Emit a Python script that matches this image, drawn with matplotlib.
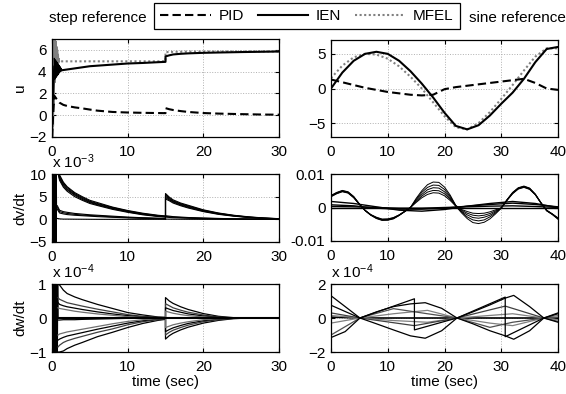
import matplotlib
matplotlib.use("Agg")
import matplotlib.pyplot as plt
from matplotlib.lines import Line2D

plt.rcParams["font.family"] = ["Liberation Sans", "DejaVu Sans"]
plt.rcParams["mathtext.fontset"] = "custom"
plt.rcParams["mathtext.rm"] = "Liberation Sans"
plt.rcParams["mathtext.it"] = "Liberation Sans"

FS = 11
GRAY = "#808080"
DASH = (0, (4, 2))
DOT = (0, (1, 1.2))

# ── u, step reference ────────────────────────────────────────────────
T_U = [0, 0.3, 0.6, 1, 1.5, 2, 3, 4, 5, 6, 8, 10, 12, 14, 15, 15, 15.5, 16,
       17, 18, 20, 22, 25, 28, 30]
U_PID_STEP = [-2, 1.8, 1.5, 1.15, 0.95, 0.85, 0.72, 0.63, 0.52, 0.42, 0.3, 0.25,
              0.22, 0.2, 0.19, 0.65, 0.55, 0.48, 0.38, 0.3, 0.2, 0.15, 0.1, 0.06, 0.05]
U_IEN_STEP = [0, 4.5, 4.0, 4.1, 4.15, 4.2, 4.3, 4.4, 4.5, 4.55, 4.65, 4.75, 4.8,
              4.87, 4.9, 5.4, 5.5, 5.58, 5.64, 5.68, 5.73, 5.76, 5.8, 5.83, 5.85]
U_MFEL_STEP = [4.95, 4.95, 4.95, 4.95, 4.95, 4.95, 4.95, 4.95, 4.95, 4.95, 4.95,
               4.95, 4.95, 4.95, 4.95, 5.8, 5.8, 5.82, 5.83, 5.84, 5.85, 5.85,
               5.85, 5.86, 5.86]
# start-up chatter
T_MFEL_OSC = [0, 0.05, 0.1, 0.15, 0.2, 0.25, 0.3, 0.35, 0.4, 0.45, 0.5, 0.55,
              0.6, 0.65, 0.7, 0.75, 0.8, 0.85, 0.9, 0.95, 1.0]
U_MFEL_OSC = [-2, 7, -2, 7, -1, 7, 1, 7, 3, 7, 4, 6.8, 4.3, 6.3, 4.5, 6.0, 4.6,
              5.6, 4.8, 5.2, 4.95]
T_IEN_OSC = [0.3, 0.35, 0.4, 0.45, 0.5, 0.55, 0.6, 0.65, 0.7, 0.75, 0.8, 0.85,
             0.9, 0.95, 1.0, 1.05, 1.1, 1.15, 1.2, 1.25, 1.3]
U_IEN_OSC = [5.2, 3.3, 5.1, 3.4, 5.0, 3.5, 4.9, 3.6, 4.8, 3.7, 4.7, 3.8, 4.6,
             3.9, 4.5, 4.0, 4.4, 4.05, 4.3, 4.1, 4.15]

# ── u, sine reference ────────────────────────────────────────────────
T_SINE = [0, 2, 4, 6, 8, 10, 12, 14, 16, 18, 20, 22, 24, 26, 28, 30, 32, 34,
          36, 38, 40]
U_PID_SINE = [1.3, 0.9, 0.5, 0.1, -0.2, -0.5, -0.7, -0.9, -1.0, -0.9, -0.1, 0.2,
              0.4, 0.6, 0.8, 1.0, 1.2, 1.4, 0.8, 0.0, -0.2]
U_IEN_SINE = [0.0, 2.3, 4.0, 5.0, 5.3, 5.0, 4.0, 2.5, 0.7, -1.3, -3.5, -5.4,
              -5.9, -5.3, -3.9, -2.2, -0.6, 1.4, 3.8, 5.7, 6.0]
U_MFEL_SINE = [1.5, 3.3, 4.5, 5.0, 4.9, 4.3, 3.2, 1.7, 0.0, -2.0, -4.0, -5.6,
               -5.9, -5.0, -3.4, -1.5, 0.5, 2.6, 4.6, 5.8, 5.8]

# ── dv/dt, step reference (x 1e-3) ───────────────────────────────────
T_DV = [0.7, 1.0, 1.5, 2, 3, 4, 5, 6, 8, 10, 12, 14, 15, 15, 15.5, 16, 17, 18,
        20, 22, 24, 26, 28, 30]
DV_STEP_HIGH = [
    [11, 9.8, 8.2, 7.2, 5.9, 5.0, 4.2, 3.7, 2.7, 1.95, 1.35, 0.9, 0.75, 5.7, 4.9, 4.3, 3.6, 3.1, 2.1, 1.4, 0.9, 0.55, 0.3, 0.15],
    [11, 9.5, 8.0, 7.0, 5.7, 4.8, 4.0, 3.5, 2.6, 1.85, 1.25, 0.82, 0.68, 5.4, 4.7, 4.1, 3.45, 2.95, 2.0, 1.33, 0.85, 0.5, 0.28, 0.13],
    [11, 9.2, 7.7, 6.7, 5.5, 4.6, 3.85, 3.35, 2.45, 1.75, 1.15, 0.75, 0.6, 5.1, 4.5, 3.95, 3.3, 2.8, 1.9, 1.25, 0.8, 0.47, 0.25, 0.12],
    [11, 8.9, 7.4, 6.5, 5.3, 4.4, 3.7, 3.2, 2.35, 1.65, 1.1, 0.7, 0.55, 4.8, 4.3, 3.8, 3.15, 2.65, 1.8, 1.18, 0.75, 0.43, 0.22, 0.1],
    [11, 8.6, 7.1, 6.2, 5.0, 4.2, 3.5, 3.05, 2.2, 1.55, 1.0, 0.62, 0.5, 4.5, 4.1, 3.6, 3.0, 2.5, 1.7, 1.1, 0.7, 0.4, 0.2, 0.08],
]
DV_STEP_LOW = [
    [3.0, 2.0, 1.7, 1.55, 1.3, 1.15, 1.0, 0.9, 0.7, 0.5, 0.35, 0.25, 0.2, 0.8, 0.7, 0.6, 0.5, 0.4, 0.3, 0.2, 0.12, 0.08, 0.05, 0.03],
    [2.6, 1.7, 1.45, 1.3, 1.1, 0.95, 0.85, 0.75, 0.55, 0.4, 0.28, 0.2, 0.15, 0.65, 0.55, 0.48, 0.4, 0.32, 0.22, 0.15, 0.1, 0.06, 0.04, 0.02],
    [2.2, 1.4, 1.2, 1.05, 0.9, 0.8, 0.7, 0.6, 0.45, 0.32, 0.22, 0.15, 0.12, 0.5, 0.42, 0.36, 0.3, 0.24, 0.16, 0.1, 0.07, 0.04, 0.02, 0.01],
    [0.2, 0.1, 0.05, 0.05, 0.03, 0.02, 0.01, 0.0, 0.0, 0.0, 0.0, 0.0, 0.0, 0.05, 0.04, 0.03, 0.02, 0.01, 0.0, 0.0, 0.0, 0.0, 0.0, 0.0],
]
T_DV_OSC = [0, 0.03, 0.06, 0.09, 0.12, 0.15, 0.18, 0.21, 0.24, 0.27, 0.3, 0.33,
            0.36, 0.39, 0.42, 0.45, 0.48, 0.51, 0.54, 0.57, 0.6]
DV_OSC = [0, 10, -5, 10, -5, 10, -5, 10, -5, 10, -5, 10, -5, 10, -5, 10, -5,
          10, -5, 10, 3]

# ── dv/dt, sine reference (x 1e-3) ───────────────────────────────────
T_DVS = list(range(41))
DV_SINE = [
    [3.6, 4.5, 5.1, 4.7, 3.3, 1.1, -0.9, -2.3, -3.3, -3.85, -3.8, -3.4, -2.4, -1.2, 0.0, 2.7, 5.0, 6.8, 7.6, 7.5, 6.1, 3.7, 0.6, -0.6, -1.2, -1.7, -1.8, -1.7, -1.3, -0.7, -0.1, 2.3, 4.5, 5.9, 6.4, 5.8, 4.0, 1.4, -1.0, -2.1, -3.5],
    [3.5, 4.4, 5.0, 4.6, 3.2, 1.0, -0.9, -2.25, -3.2, -3.75, -3.7, -3.3, -2.35, -1.2, 0.0, 2.4, 4.5, 6.0, 6.7, 6.6, 5.4, 3.3, 0.5, -0.8, -1.7, -2.3, -2.5, -2.3, -1.8, -1.0, -0.1, 2.25, 4.4, 5.8, 6.3, 5.7, 3.95, 1.4, -0.95, -2.05, -3.4],
    [3.4, 4.3, 4.9, 4.5, 3.1, 1.0, -0.9, -2.2, -3.1, -3.65, -3.6, -3.2, -2.3, -1.2, 0.0, 2.1, 3.9, 5.3, 5.9, 5.8, 4.7, 2.9, 0.5, -1.1, -2.2, -3.0, -3.2, -2.9, -2.3, -1.3, -0.1, 2.2, 4.3, 5.7, 6.2, 5.6, 3.9, 1.4, -0.9, -2.0, -3.3],
    [3.3, 4.2, 4.8, 4.4, 3.0, 1.0, -0.85, -2.15, -3.0, -3.55, -3.5, -3.1, -2.25, -1.15, 0.0, 1.8, 3.4, 4.6, 5.1, 5.0, 4.1, 2.5, 0.4, -1.3, -2.8, -3.7, -4.0, -3.7, -2.8, -1.6, -0.2, 2.15, 4.2, 5.6, 6.1, 5.5, 3.85, 1.35, -0.85, -1.95, -3.2],
    [3.2, 4.1, 4.7, 4.3, 2.9, 0.9, -0.8, -2.1, -2.9, -3.45, -3.4, -3.0, -2.2, -1.1, 0.0, 1.5, 2.9, 3.9, 4.4, 4.3, 3.5, 2.1, 0.4, -1.6, -3.3, -4.5, -4.8, -4.4, -3.4, -1.9, -0.2, 2.1, 4.1, 5.5, 6.0, 5.4, 3.8, 1.3, -0.8, -1.9, -3.1],
]
T_SLOW = [0, 4, 8, 12, 16, 20, 24, 28, 32, 36, 40]
DV_SLOW = [
    [1.8, 1.2, 0.2, -0.8, -1.1, -0.6, 0.4, 1.2, 1.8, 1.2, 0.0],
    [0.8, 0.5, -0.2, -0.5, -0.5, -0.2, 0.4, 0.9, 1.3, 0.9, 0.2],
    [0.3, 0.2, 0.0, -0.2, -0.2, 0.0, 0.2, 0.4, 0.5, 0.3, 0.0],
    [0.0, 0.0, 0.0, 0.0, 0.0, 0.0, 0.0, 0.0, 0.0, 0.0, 0.0],
]

# ── dw/dt, step reference (x 1e-4) ───────────────────────────────────
T_DW = [0.8, 1.0, 1.5, 2, 3, 4, 6, 8, 10, 12, 14, 15, 15, 15.5, 16, 17, 18, 20,
        22, 24, 26, 30]
DW_STEP = [
    [1.0, 0.97, 0.82, 0.72, 0.62, 0.54, 0.4, 0.28, 0.16, 0.09, 0.03, 0.02, 0.6, 0.5, 0.43, 0.33, 0.25, 0.13, 0.05, 0.01, 0.0, 0.0],
    [0.6, 0.55, 0.5, 0.45, 0.4, 0.35, 0.26, 0.18, 0.1, 0.05, 0.02, 0.01, 0.42, 0.36, 0.3, 0.23, 0.17, 0.09, 0.03, 0.0, 0.0, 0.0],
    [0.45, 0.4, 0.36, 0.33, 0.29, 0.25, 0.18, 0.12, 0.07, 0.03, 0.01, 0.0, 0.3, 0.26, 0.22, 0.17, 0.12, 0.06, 0.02, 0.0, 0.0, 0.0],
    [0.3, 0.28, 0.26, 0.24, 0.2, 0.17, 0.12, 0.08, 0.04, 0.02, 0.0, 0.0, 0.2, 0.17, 0.14, 0.1, 0.07, 0.03, 0.01, 0.0, 0.0, 0.0],
    [-1.0, -1.0, -0.97, -0.9, -0.8, -0.72, -0.55, -0.42, -0.28, -0.16, -0.07, -0.04, -0.62, -0.52, -0.45, -0.35, -0.27, -0.15, -0.07, -0.02, 0.0, 0.0],
    [-0.85, -0.8, -0.72, -0.67, -0.6, -0.54, -0.42, -0.32, -0.2, -0.11, -0.05, -0.03, -0.5, -0.42, -0.36, -0.28, -0.21, -0.11, -0.05, -0.01, 0.0, 0.0],
    [-0.65, -0.62, -0.57, -0.53, -0.48, -0.43, -0.33, -0.24, -0.15, -0.08, -0.03, -0.02, -0.4, -0.34, -0.29, -0.22, -0.16, -0.08, -0.03, 0.0, 0.0, 0.0],
    [-0.5, -0.47, -0.44, -0.41, -0.37, -0.33, -0.25, -0.17, -0.1, -0.05, -0.02, -0.01, -0.28, -0.24, -0.2, -0.15, -0.11, -0.05, -0.02, 0.0, 0.0, 0.0],
    [-0.06, -0.06, -0.05, -0.05, -0.05, -0.04, -0.03, -0.02, -0.01, 0.0, 0.0, 0.0, 0.0, 0.0, 0.0, 0.0, 0.0, 0.0, 0.0, 0.0, 0.0, 0.0],
]
DW_STEP_COLORS = ["black", "#404040", "black", "#707070", "black", "#404040",
                  "black", "#707070", "black"]
T_DW_OSC = [0, 0.04, 0.08, 0.12, 0.16, 0.2, 0.24, 0.28, 0.32, 0.36, 0.4, 0.44,
            0.48, 0.52, 0.56, 0.6, 0.64, 0.68, 0.72, 0.76, 0.8]
DW_OSC = [0, 1, -1, 1, -1, 1, -1, 1, -1, 1, -1, 1, -1, 1, -1, 1, -1, 1, -1, 1, 0]

# ── dw/dt, sine reference (x 1e-4) ───────────────────────────────────
T_DWS_SMOOTH = [0, 2.5, 5.1, 8, 11, 14, 16.6, 19.5, 22.2, 25, 28, 30.7, 32.2,
                35, 37.5, 40]
DWS_A = [1.31, 0.67, 0, -0.34, -0.7, -1.05, -1.19, -0.75, 0, 0.36, 0.77, 1.17,
         1.33, 0.67, 0, -0.25]
DWS_B = [-1.15, -0.8, 0, 0.36, 0.67, 0.83, 0.9, 0.57, 0, -0.34, -0.75, -1.05,
         -1.25, -0.75, 0, 0.3]
T_DWS_JUMP = [0, 5.1, 14.7, 14.7, 22.2, 30.7, 30.7, 37.5, 40]
DWS_C = [0.75, 0, 1.13, -0.7, 0, 1.23, -1.1, 0, 0.25]
T_DWS_LIN = [0, 5.1, 14.7, 22.2, 30.7, 37.5, 40]
DWS_D = [0.3, 0, -0.45, 0, 0.7, 0, -0.2]
T_DWS_SMALL = [0, 5.1, 11, 17, 22.2, 28, 32, 37.5, 40]
DWS_E = [-0.3, 0, 0.25, 0.45, 0, -0.3, -0.45, 0, 0.15]
DWS_F = [0.15, 0, -0.15, -0.25, 0, 0.15, 0.25, 0, -0.1]
DWS_G = [-1.0, 0, 0.55, 0.25, 0, -0.55, -0.25, 0, 0.05]
DWS_Z = [0.05, 0, 0, 0, 0, 0, 0, 0, 0]


def style(ax, xmax, ylim, yticks, ytl=None):
    ax.set_xlim(0, xmax)
    ax.set_ylim(*ylim)
    ax.set_xticks(range(0, xmax + 1, 10))
    ax.set_yticks(yticks)
    if ytl is not None:
        ax.set_yticklabels(ytl)
    ax.grid(True, color="#b0b0b0", linestyle=":", linewidth=0.7)
    ax.tick_params(direction="in", top=True, right=True, length=3, width=0.8,
                   labelsize=FS)
    ax.tick_params(axis="x", pad=5.5)
    ax.tick_params(axis="y", pad=4)
    for s in ax.spines.values():
        s.set_linewidth(0.9)


def exponent(ax, text):
    # MATLAB-style "x 10^n" tag above the axes
    ax.text(0.0, 1.093, text, transform=ax.transAxes, fontsize=FS,
            ha="left", va="baseline")


W, H = 566, 394
fig = plt.figure(figsize=(W / 100, H / 100), dpi=100)


def add_axes(left, right, top, bottom):
    return fig.add_axes([left / W, 1 - bottom / H, (right - left) / W, (bottom - top) / H])


ax1 = add_axes(52, 279, 39, 137)
ax2 = add_axes(331, 558, 40, 137)
ax3 = add_axes(52, 279, 174, 242)
ax4 = add_axes(331, 558, 174, 241)
ax5 = add_axes(52, 279, 284, 352)
ax6 = add_axes(331, 558, 284, 352)

# top left
ax1.plot(T_MFEL_OSC, U_MFEL_OSC, color=GRAY, lw=0.8)
ax1.plot(T_U[2:], U_MFEL_STEP[2:], color=GRAY, ls=DOT, lw=1.5)
ax1.plot(T_IEN_OSC, U_IEN_OSC, color="black", lw=1.0)
ax1.plot(T_U, U_IEN_STEP, color="black", lw=1.5)
ax1.plot(T_U, U_PID_STEP, color="black", ls=DASH, lw=1.5)
style(ax1, 30, (-2, 7), [-2, 0, 2, 4, 6])
ax1.set_ylabel("u", fontsize=FS)
ax1.yaxis.set_label_coords(-0.11, 0.5)

# top right
ax2.plot(T_SINE, U_MFEL_SINE, color=GRAY, ls=DOT, lw=1.5)
ax2.plot(T_SINE, U_IEN_SINE, color="black", lw=1.5)
ax2.plot(T_SINE, U_PID_SINE, color="black", ls=DASH, lw=1.5)
style(ax2, 40, (-7, 7), [-5, 0, 5])

# middle left
ax3.plot(T_DV_OSC, DV_OSC, color="black", lw=0.8)
for ys in DV_STEP_HIGH + DV_STEP_LOW:
    ax3.plot(T_DV, ys, color="black", lw=0.8)
style(ax3, 30, (-5, 10), [-5, 0, 5, 10])
ax3.set_ylabel("dv/dt", fontsize=FS)
ax3.yaxis.set_label_coords(-0.11, 0.5)
exponent(ax3, r"x 10$^{-3}$")

# middle right
for ys in DV_SLOW:
    ax4.plot(T_SLOW, [v * 1e-3 for v in ys], color="black", lw=1.0)
for ys in DV_SINE:
    ax4.plot(T_DVS, [v * 1e-3 for v in ys], color="black", lw=0.7)
style(ax4, 40, (-0.01, 0.01), [-0.01, 0, 0.01], ["-0.01", "0", "0.01"])

# bottom left
ax5.plot(T_DW_OSC, DW_OSC, color="black", lw=0.8)
for ys, c in zip(DW_STEP, DW_STEP_COLORS):
    ax5.plot(T_DW, ys, color=c, lw=0.9)
ax5.plot([0, 30], [0, 0], color="black", lw=1.5)
style(ax5, 30, (-1, 1), [-1, 0, 1])
ax5.set_ylabel("dw/dt", fontsize=FS)
ax5.yaxis.set_label_coords(-0.11, 0.5)
ax5.set_xlabel("time (sec)", fontsize=FS, labelpad=1)
exponent(ax5, r"x 10$^{-4}$")

# bottom right
ax6.plot(T_DWS_SMALL, DWS_Z, color="black", lw=1.2)
ax6.plot(T_DWS_SMALL, DWS_E, color=GRAY, lw=0.9)
ax6.plot(T_DWS_SMALL, DWS_F, color=GRAY, lw=0.9)
ax6.plot(T_DWS_SMALL, DWS_G, color="#505050", lw=0.9)
ax6.plot(T_DWS_LIN, DWS_D, color="#404040", lw=0.9)
ax6.plot(T_DWS_JUMP, DWS_C, color="black", lw=0.9)
ax6.plot(T_DWS_SMOOTH, DWS_A, color="black", lw=0.9)
ax6.plot(T_DWS_SMOOTH, DWS_B, color="black", lw=0.9)
style(ax6, 40, (-2, 2), [-2, 0, 2])
ax6.set_xlabel("time (sec)", fontsize=FS, labelpad=1)
exponent(ax6, r"x 10$^{-4}$")

# legend row
handles = [
    Line2D([], [], color="black", ls=DASH, lw=1.5),
    Line2D([], [], color="black", lw=1.5),
    Line2D([], [], color=GRAY, ls=DOT, lw=1.5),
]
leg = fig.legend(handles, ["PID", "IEN", "MFEL"], loc="upper center",
                 bbox_to_anchor=(307 / W, 1 - 3 / H), ncol=3, fontsize=FS,
                 frameon=True, fancybox=False, edgecolor="black", framealpha=1,
                 handlelength=3.3, handletextpad=0.5, columnspacing=0.9,
                 borderpad=0.4, borderaxespad=0)
leg.get_frame().set_linewidth(0.9)
fig.text(147 / W, 1 - 18 / H, "step reference", fontsize=FS, ha="right", va="center")
fig.text(469 / W, 1 - 18 / H, "sine reference", fontsize=FS, ha="left", va="center")

fig.savefig("out.png", dpi=100)
